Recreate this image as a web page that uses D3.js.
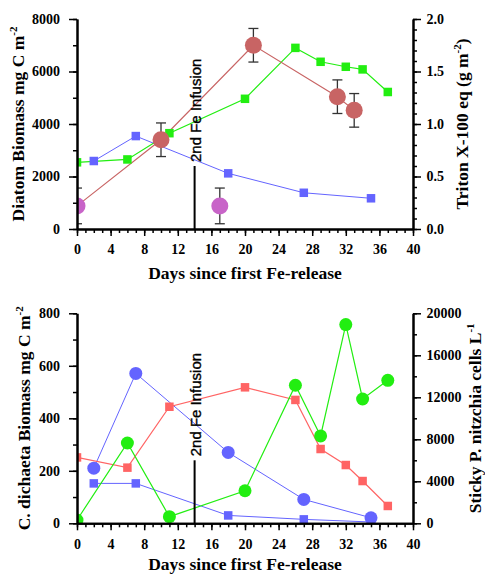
<!DOCTYPE html>
<html>
<head>
<meta charset="utf-8">
<script src="https://cdn.jsdelivr.net/npm/d3@7"></script>
<style>
    body { margin: 0; background: #fff; }
    svg text { font-family: 'Liberation Serif', 'Times New Roman', serif; font-weight: bold; fill: #000; }
    .tick text { font-size: 14px; }
    .title { font-size: 17.5px; }
    svg text.fe { font-family: 'Liberation Sans', Arial, sans-serif; font-weight: normal; font-size: 15px;
        stroke: #000; stroke-width: 0.35; }
    .domain { stroke: #000; stroke-width: 2; }
    .tick line { stroke: #000; stroke-width: 1.5; }
</style>
</head>
<body>
<svg id="chart" width="485" height="574"></svg>
<script>
'use strict';

// ---- top panel: diatom biomass (left) and Triton X-100 eq (right)
const diatomOutDays = [2, 7, 18, 27, 35];
const diatomOut = [2590, 3540, 2120, 1380, 1170];
const diatomInDays = [0, 6, 11, 20, 26, 29, 32, 34, 37];
const diatomIn = [2540, 2650, 3650, 4960, 6900, 6370, 6180, 6080, 5220];
const tritonInDays = [10, 21, 31, 33];
const tritonIn = [0.85, 1.75, 1.26, 1.13];
const tritonInErr = [0.16, 0.16, 0.16, 0.16];
const tritonOutDays = [0, 17];
const tritonOut = [0.22, 0.22];
const tritonOutErr = [0.17, 0.17];

// ---- bottom panel: C. dichaeta biomass (left) and sticky P. nitzschia (right)
const dichaetaDays = [2, 7, 18, 27, 35];
const dichaetaCircles = [210, 571, 270, 91, 21];
const dichaetaSquares = [152, 152, 30, 15, 5];
const bottomDays = [0, 6, 11, 20, 26, 29, 32, 34, 37];
const dichaetaIn = [251, 212, 444, 518, 470, 283, 222, 161, 66];
const stickyCells = [315, 7650, 630, 3100, 13150, 8320, 18930, 11840, 13620];

const infusionDay = 14;
const dayTicks = d3.range(0, 41, 4);
const dayMinor = d3.range(0, 41, 1);

const blue = '#6464ff', green = '#22ee11', brick = '#c86464', purple = '#c864c8', salmon = '#ff6464';

const svg = d3.select('#chart');
const x = d3.scaleLinear().domain([0, 40]).range([77, 413]);

function zip(days, vals, errs) {
    return days.map(function (d, i) { return {day: d, v: vals[i], e: errs ? errs[i] : 0}; });
}

function axis(g, fn, scale, tr, values, len, fmt, pad) {
    g.append('g').attr('transform', tr)
        .call(fn(scale).tickValues(values).tickSize(len).tickSizeOuter(0)
            .tickPadding(pad).tickFormat(fmt));
}

function drawPanel(cfg) {
    const g = svg.append('g');
    const yL = d3.scaleLinear().domain(cfg.left).range([cfg.bottom, cfg.top]);
    const yR = d3.scaleLinear().domain(cfg.right).range([cfg.bottom, cfg.top]);

    const clipId = 'clip' + cfg.id;
    svg.append('clipPath').attr('id', clipId).append('rect')
        .attr('x', x(0)).attr('y', 0).attr('width', x(40) - x(0)).attr('height', cfg.bottom);
    const plot = g.append('g').attr('clip-path', 'url(#' + clipId + ')');

    // axes
    const none = function () { return ''; };
    axis(g, d3.axisBottom, x, 'translate(0,' + cfg.bottom + ')', dayMinor, 4, none, 0);
    axis(g, d3.axisBottom, x, 'translate(0,' + cfg.bottom + ')', dayTicks, 7, d3.format('d'), 8.5);
    axis(g, d3.axisLeft, yL, 'translate(' + x(0) + ',0)', cfg.leftMinor, 4, none, 0);
    axis(g, d3.axisLeft, yL, 'translate(' + x(0) + ',0)', cfg.leftTicks, 8, d3.format('d'), 9);
    axis(g, d3.axisRight, yR, 'translate(' + x(40) + ',0)', cfg.rightMinor, 4, none, 0);
    axis(g, d3.axisRight, yR, 'translate(' + x(40) + ',0)', cfg.rightTicks, 8, cfg.rightFmt, 5.5);

    // infusion marker
    g.append('line')
        .attr('x1', x(infusionDay)).attr('x2', x(infusionDay))
        .attr('y1', yL(0)).attr('y2', yL(cfg.feTop))
        .attr('stroke', '#000').attr('stroke-width', 2);
    g.append('text').attr('class', 'fe')
        .attr('transform', 'translate(' + (x(infusionDay) + 6.5) + ',' + (yL(cfg.feTop) - 4) + ') rotate(-90)')
        .text('2nd Fe Infusion');

    // titles
    g.append('text').attr('class', 'title').attr('text-anchor', 'middle')
        .attr('x', (x(0) + x(40)) / 2).attr('y', cfg.bottom + cfg.xTitleGap)
        .text('Days since first Fe-release');
    cfg.titles.forEach(function (t) {
        const txt = g.append('text').attr('class', 'title').attr('text-anchor', 'middle')
            .attr('transform', 'translate(' + t.x + ',' + (cfg.top + cfg.bottom) / 2 + ') rotate(-90)');
        txt.append('tspan').text(t.main);
        txt.append('tspan').attr('font-size', 11).attr('dy', -7).text(t.sup);
        if (t.tail) txt.append('tspan').attr('dy', 7).text(t.tail);
    });

    return {g: plot, yL: yL, yR: yR};
}

function line(plot, data, y, color, width) {
    plot.append('path').datum(data)
        .attr('fill', 'none').attr('stroke', color).attr('stroke-width', width || 1)
        .attr('d', d3.line().x(function (d) { return x(d.day); }).y(function (d) { return y(d.v); }));
}

function squares(plot, data, y, color, size) {
    plot.selectAll(null).data(data).enter().append('rect')
        .attr('x', function (d) { return x(d.day) - size / 2; })
        .attr('y', function (d) { return y(d.v) - size / 2; })
        .attr('width', size).attr('height', size)
        .attr('fill', color);
}

function circles(plot, data, y, color, r) {
    plot.selectAll(null).data(data).enter().append('circle')
        .attr('cx', function (d) { return x(d.day); })
        .attr('cy', function (d) { return y(d.v); })
        .attr('r', r).attr('fill', color);
}

function errorBars(plot, data, y) {
    const eb = plot.selectAll(null).data(data).enter().append('g')
        .attr('stroke', '#333').attr('stroke-width', 1.3);
    eb.append('line')
        .attr('x1', function (d) { return x(d.day); }).attr('x2', function (d) { return x(d.day); })
        .attr('y1', function (d) { return y(d.v - d.e); }).attr('y2', function (d) { return y(d.v + d.e); });
    [-1, 1].forEach(function (s) {
        eb.append('line')
            .attr('x1', function (d) { return x(d.day) - 5; }).attr('x2', function (d) { return x(d.day) + 5; })
            .attr('y1', function (d) { return y(d.v + s * d.e); }).attr('y2', function (d) { return y(d.v + s * d.e); });
    });
}

// ---- top panel
const topPanel = drawPanel({
    id: 'A', top: 19, bottom: 229, xTitleGap: 49.5,
    left: [0, 8000], leftTicks: d3.range(0, 8001, 2000), leftMinor: d3.range(0, 8001, 1000),
    right: [0, 2], rightTicks: [0, 0.5, 1, 1.5, 2], rightMinor: d3.range(0, 21).map(function (i) { return i / 10; }),
    rightFmt: d3.format('.1f'), feTop: 2400,
    titles: [
        {x: 23.5, main: 'Diatom Biomass mg C m', sup: '-2'},
        {x: 468, main: 'Triton X-100 eq (g m', sup: '-2', tail: ')'}
    ]
});

const tOut = zip(tritonOutDays, tritonOut, tritonOutErr);
const tIn = zip(tritonInDays, tritonIn, tritonInErr);
line(topPanel.g, zip(diatomOutDays, diatomOut), topPanel.yL, blue, 1);
line(topPanel.g, zip(diatomInDays, diatomIn), topPanel.yL, green, 1.2);
line(topPanel.g, [tOut[0]].concat(tIn), topPanel.yR, brick, 1.2);
errorBars(topPanel.g, tOut.concat(tIn), topPanel.yR);
squares(topPanel.g, zip(diatomOutDays, diatomOut), topPanel.yL, blue, 8.5);
squares(topPanel.g, zip(diatomInDays, diatomIn), topPanel.yL, green, 8.5);
circles(topPanel.g, tIn, topPanel.yR, brick, 8.5);
circles(topPanel.g, tOut, topPanel.yR, purple, 8.5);

// ---- bottom panel
const bottomPanel = drawPanel({
    id: 'B', top: 313.3, bottom: 523.3, xTitleGap: 46.5,
    left: [0, 800], leftTicks: d3.range(0, 801, 200), leftMinor: d3.range(0, 801, 100),
    right: [0, 20000], rightTicks: d3.range(0, 20001, 4000), rightMinor: d3.range(0, 20001, 2000),
    rightFmt: d3.format('d'), feTop: 240,
    titles: [
        {x: 30, main: 'C. dichaeta Biomass mg C m', sup: '-2'},
        {x: 480.5, main: 'Sticky P. nitzchia cells L', sup: '-1'}
    ]
});

line(bottomPanel.g, zip(dichaetaDays, dichaetaSquares), bottomPanel.yL, blue, 1);
line(bottomPanel.g, zip(dichaetaDays, dichaetaCircles), bottomPanel.yL, blue, 1);
line(bottomPanel.g, zip(bottomDays, dichaetaIn), bottomPanel.yL, salmon, 1.2);
line(bottomPanel.g, zip(bottomDays, stickyCells), bottomPanel.yR, green, 1.2);
squares(bottomPanel.g, zip(dichaetaDays, dichaetaSquares), bottomPanel.yL, blue, 8.5);
squares(bottomPanel.g, zip(bottomDays, dichaetaIn), bottomPanel.yL, salmon, 8.5);
circles(bottomPanel.g, zip(dichaetaDays, dichaetaCircles), bottomPanel.yL, blue, 6.5);
circles(bottomPanel.g, zip(bottomDays, stickyCells), bottomPanel.yR, green, 6.5);
</script>
</body>
</html>
